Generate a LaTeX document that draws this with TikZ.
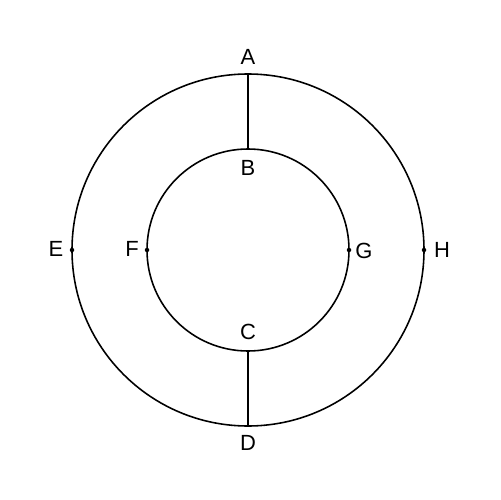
\documentclass[tikz,border=0pt]{standalone}
\usepackage{fontspec}
\setmainfont{Liberation Sans}
\begin{document}
\begin{tikzpicture}[x=0.02cm,y=-0.02cm,
  lbl/.style={font=\fontsize{12.5}{15}\selectfont, inner sep=0pt},
  dotpt/.style={circle, fill=black, inner sep=0pt, minimum size=0.09cm},
  ln/.style={line width=0.9pt}]
\useasboundingbox (0,0) rectangle (500,500);
\coordinate (O) at (248,250);
\draw[ln] (O) circle[radius=176*0.02cm];
\draw[ln] (O) circle[radius=101*0.02cm];
\coordinate (A) at (248,74);
\coordinate (B) at (248,149);
\coordinate (C) at (248,351);
\coordinate (D) at (248,426);
\node[dotpt] (E) at (72,250) {};
\node[dotpt] (F) at (147,250) {};
\node[dotpt] (G) at (349,250) {};
\node[dotpt] (H) at (424,250) {};
\draw[ln] (A) -- (B);
\draw[ln] (C) -- (D);
\node[lbl] (lA) at (248,57) {A};
\node[lbl] (lB) at (248,168) {B};
\node[lbl] (lC) at (248,332) {C};
\node[lbl] (lD) at (248,443) {D};
\node[lbl] (lE) at (56,249) {E};
\node[lbl] (lF) at (132,249) {F};
\node[lbl] (lG) at (364,251) {G};
\node[lbl] (lH) at (442,250) {H};
\end{tikzpicture}
\end{document}
